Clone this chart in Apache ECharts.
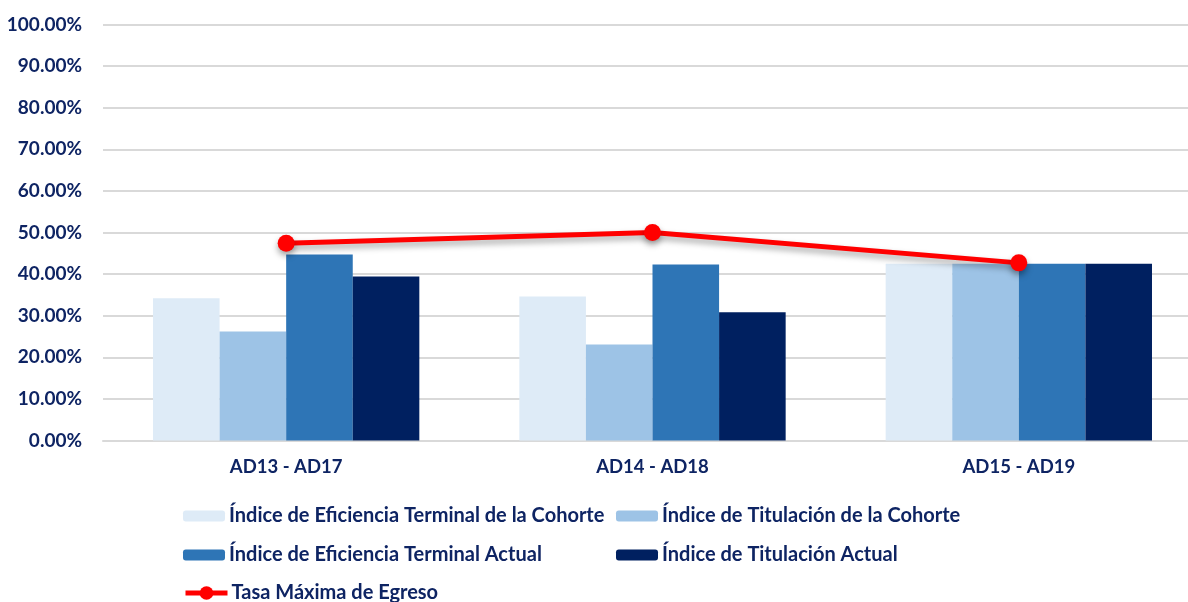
<!DOCTYPE html>
<html><head><meta charset="utf-8">
<script src="https://cdn.jsdelivr.net/npm/echarts@6/dist/echarts.min.js"></script>
<style>html,body{margin:0;padding:0;background:#fff}#c{width:1188px;height:602px}</style>
</head><body><div id="c"></div>
<script>
const categories = ['AD13 - AD17', 'AD14 - AD18', 'AD15 - AD19'];
const eficienciaCohorte = [34.2, 34.6, 42.5];
const titulacionCohorte = [26.2, 23.1, 42.5];
const eficienciaActual = [44.7, 42.3, 42.5];
const titulacionActual = [39.4, 30.8, 42.5];
const tasaMaxima = [47.4, 50.0, 42.7];
const yTicks = [0, 10, 20, 30, 40, 50, 60, 70, 80, 90, 100];

const names = ['Índice de Eficiencia Terminal de la Cohorte','Índice de Titulación de la Cohorte','Índice de Eficiencia Terminal Actual','Índice de Titulación Actual','Tasa Máxima de Egreso'];
const colors = ['#DEEBF7','#9DC3E6','#2E75B6','#002060','#FF0000'];
const textColor = '#0E2463';
const font = 'Lato, "Open Sans", sans-serif';

const legendPos = [[183,506],[616,506],[183,545],[616,545],[183,583]];
const legends = names.map((n,i)=>({
  data:[n], left:legendPos[i][0], top:legendPos[i][1],
  itemWidth:42, itemHeight: i===4?17:11, itemGap:4,
  padding:0,
  lineStyle: i===4 ? {width:5} : undefined,
  textStyle:{color:textColor, fontSize:20, fontWeight:'bold', fontFamily:font, padding:[0,0,0,-1]}
}));

const barData = [eficienciaCohorte, titulacionCohorte, eficienciaActual, titulacionActual];
const series = barData.map((d,i)=>({
  name:names[i], type:'bar', data:d, barGap:'0%', barCategoryGap:'27.3%',
  itemStyle:{color:colors[i]}
}));
series.push({
  name:names[4], type:'line', data:tasaMaxima, symbol:'circle', symbolSize:17,
  lineStyle:{color:'#FF0000', width:5, shadowColor:'rgba(0,0,0,0.35)', shadowBlur:6, shadowOffsetY:4},
  itemStyle:{color:'#FF0000', shadowColor:'rgba(0,0,0,0.35)', shadowBlur:6, shadowOffsetY:4},
  z:5
});

const chart = echarts.init(document.getElementById('c'));
chart.setOption({
  animation:false,
  backgroundColor:'#fff',
  legend: legends,
  grid:{left:103, right:-14, top:24.5, height:416, containLabel:false, outerBoundsMode:'none'},
  xAxis:{type:'category', data:categories,
    axisLine:{lineStyle:{color:'#D9D9D9', width:2}}, axisTick:{show:false},
    axisLabel:{color:textColor, fontSize:18.5, fontWeight:'bold', fontFamily:font, margin:17}},
  yAxis:{type:'value', min:yTicks[0], max:yTicks[yTicks.length-1], interval:10,
    axisLine:{show:false}, axisTick:{show:false},
    splitLine:{lineStyle:{color:'#D9D9D9', width:2}},
    axisLabel:{color:textColor, fontSize:19, fontWeight:'bold', fontFamily:font, margin:21,
      formatter:v=>v.toFixed(2)+'%'}},
  series
});
</script></body></html>
